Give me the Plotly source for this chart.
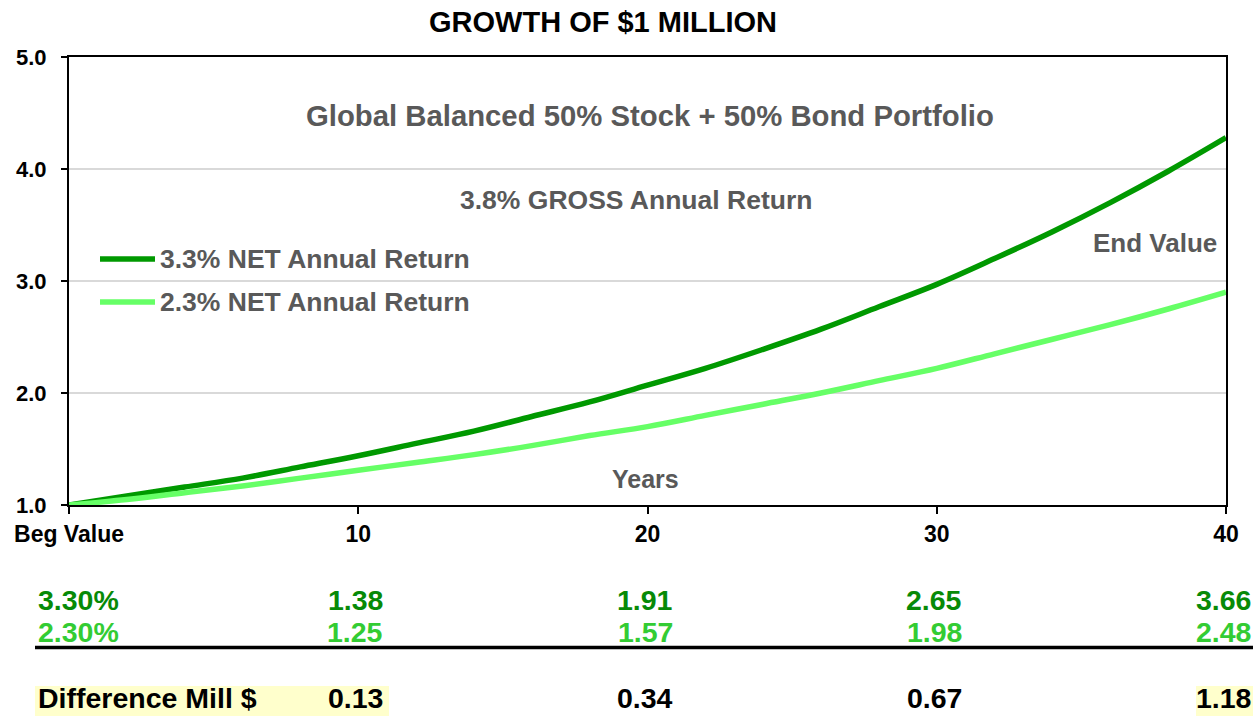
import plotly.graph_objects as go

# ---------------- data ----------------
years = [0, 2, 4, 6, 8, 10, 12, 14, 16, 18, 20, 22, 24, 26, 28, 30, 32, 34, 36, 38, 40]
curve_33 = [1.00, 1.08, 1.16, 1.24, 1.34, 1.44, 1.55, 1.66, 1.79, 1.92, 2.07,
            2.22, 2.39, 2.57, 2.77, 2.97, 3.20, 3.44, 3.70, 3.98, 4.28]
curve_23 = [1.00, 1.05, 1.11, 1.17, 1.24, 1.31, 1.38, 1.45, 1.53, 1.62, 1.70,
            1.80, 1.90, 2.00, 2.11, 2.22, 2.35, 2.48, 2.61, 2.75, 2.90]

series_names = ["3.3% NET Annual Return", "2.3% NET Annual Return"]
x_tickvals = [0, 10, 20, 30, 40]
x_ticktext = ["Beg Value", "10", "20", "30", "40"]
y_tickvals = [1, 2, 3, 4, 5]

table_years = [10, 20, 30, 40]
row_labels = ["3.30%", "2.30%", "Difference Mill $"]
row_33 = [1.38, 1.91, 2.65, 3.66]
row_23 = [1.25, 1.57, 1.98, 2.48]
row_diff = [0.13, 0.34, 0.67, 1.18]

title_text = "GROWTH OF $1 MILLION"
subtitle_text = "Global Balanced 50% Stock + 50% Bond Portfolio"
gross_text = "3.8% GROSS Annual Return"
end_text = "End Value"
years_text = "Years"

# ---------------- styling ----------------
W, H = 1253, 716
L, R, T, B = 69, 27, 57, 211
PW, PH = W - L - R, H - T - B
FONT = "Liberation Sans, Arial, sans-serif"
DARK_LINE = "#009900"
LIGHT_LINE = "#66ff66"
DARK_TXT = "#078a07"
LIGHT_TXT = "#33cc33"
GRAY = "#595959"


def px_x(px):
    return (px - L) / PW


def px_y(py):
    return (H - B - py) / PH


fig = go.Figure()
fig.add_trace(go.Scatter(x=years, y=curve_33, mode="lines", name=series_names[0],
                         line=dict(color=DARK_LINE, width=5.5, shape="spline"),
                         showlegend=False, hoverinfo="skip"))
fig.add_trace(go.Scatter(x=years, y=curve_23, mode="lines", name=series_names[1],
                         line=dict(color=LIGHT_LINE, width=5.5, shape="spline"),
                         showlegend=False, hoverinfo="skip"))

ann = []


def add_text(text, x, y, size, color, xanchor="center", yanchor="middle"):
    ann.append(dict(text="<b>" + text + "</b>", x=px_x(x), y=px_y(y), xref="paper", yref="paper",
                    xanchor=xanchor, yanchor=yanchor, showarrow=False,
                    font=dict(family=FONT, size=size, color=color)))


add_text(title_text, 602.5, 22, 29, "black")
add_text(subtitle_text, 650, 115, 29.3, GRAY)
add_text(gross_text, 636, 200, 26.5, GRAY)
add_text(series_names[0], 158, 259, 26.5, GRAY, "left")
add_text(series_names[1], 158, 302, 26.5, GRAY, "left")
add_text(end_text, 1154.5, 243, 26, GRAY)
add_text(years_text, 645.5, 479, 25, GRAY)

# table
row_y = [600, 632, 716]
row_anchor = ["middle", "middle", "bottom"]
row_colors = [DARK_TXT, LIGHT_TXT, "black"]
for lbl, yy, ya, col in zip(row_labels, row_y, row_anchor, row_colors):
    add_text(lbl, 36, yy, 28.5, col, "left", ya)
for vals, yy, ya, col in zip([row_33, row_23, row_diff], row_y, row_anchor, row_colors):
    for yr, v in zip(table_years, vals):
        ann.append(dict(text="<b>%.2f</b>" % v, x=yr, y=px_y(yy), xref="x", yref="paper",
                        xanchor="right", yanchor=ya, xshift=27, showarrow=False,
                        font=dict(family=FONT, size=28.5, color=col)))

shapes = [
    # legend sample lines
    dict(type="line", xref="paper", yref="paper", x0=px_x(100), x1=px_x(155),
         y0=px_y(259), y1=px_y(259), line=dict(color=DARK_LINE, width=5.5)),
    dict(type="line", xref="paper", yref="paper", x0=px_x(100), x1=px_x(155),
         y0=px_y(302), y1=px_y(302), line=dict(color=LIGHT_LINE, width=5.5)),
    # table rule
    dict(type="line", xref="paper", yref="paper", x0=px_x(35), x1=px_x(1253),
         y0=px_y(647.5), y1=px_y(647.5), line=dict(color="black", width=3.5)),
    # yellow highlights
    dict(type="rect", xref="paper", yref="paper", x0=px_x(35), x1=px_x(389),
         y0=px_y(716), y1=px_y(686), fillcolor="#ffffcc", line=dict(width=0), layer="below"),
    dict(type="rect", xref="paper", yref="paper", x0=px_x(1196), x1=px_x(1253),
         y0=px_y(716), y1=px_y(686), fillcolor="#ffffcc", line=dict(width=0), layer="below"),
]

fig.update_layout(
    width=W, height=H, autosize=False,
    margin=dict(l=L, r=R, t=T, b=B, pad=0),
    paper_bgcolor="white", plot_bgcolor="white",
    annotations=ann, shapes=shapes,
    font=dict(family=FONT, color="black"),
)
fig.update_xaxes(range=[0, 40], tickvals=x_tickvals, ticktext=x_ticktext,
                 ticks="outside", ticklen=7, tickwidth=2, tickcolor="black",
                 showline=True, linecolor="black", linewidth=2, mirror=True,
                 showgrid=False, zeroline=False,
                 tickfont=dict(family=FONT, size=23, color="black", weight="bold"))
fig.update_yaxes(range=[1, 5], tickvals=y_tickvals, tickformat=".1f",
                 ticks="outside", ticklen=6, tickwidth=2, tickcolor="black",
                 ticklabelstandoff=10,
                 showline=True, linecolor="black", linewidth=2, mirror=True,
                 showgrid=True, gridcolor="#d9d9d9", gridwidth=2, zeroline=False,
                 tickfont=dict(family=FONT, size=22, color="black", weight="bold"))

fig.write_html("out.html", config={"displayModeBar": False},
               post_script="document.body.style.margin='0px';document.body.style.overflow='hidden';")
